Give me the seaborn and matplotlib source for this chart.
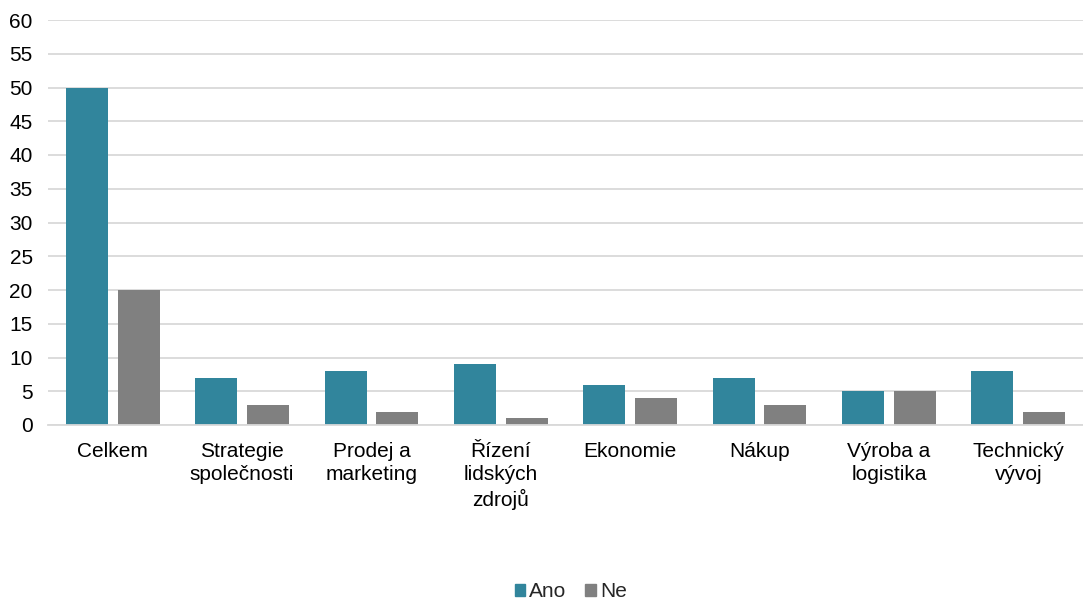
import matplotlib
matplotlib.use("Agg")
import matplotlib.pyplot as plt
import seaborn as sns
import pandas as pd

categories = ["Celkem", "Strategie\nspolečnosti", "Prodej a\nmarketing",
              "Řízení\nlidských\nzdrojů", "Ekonomie", "Nákup",
              "Výroba a\nlogistika", "Technický\nvývoj"]
ano = [50, 7, 8, 9, 6, 7, 5, 8]
ne = [20, 3, 2, 1, 4, 3, 5, 2]
series = ["Ano", "Ne"]
colors = ["#31859C", "#808080"]

sns.set_theme(style="white")
plt.rcParams["font.family"] = ["Liberation Sans", "DejaVu Sans"]

df = pd.DataFrame({
    "kategorie": categories * 2,
    "hodnota": ano + ne,
    "odpověď": [series[0]] * len(categories) + [series[1]] * len(categories),
})

fig = plt.figure(figsize=(10.83, 6.0), dpi=100)
ax = fig.add_axes([48 / 1083, 1 - 425 / 600, 1 - 48 / 1083, 405 / 600])

sns.barplot(data=df, x="kategorie", y="hodnota", hue="odpověď",
            palette=colors, width=0.8, gap=0.19, ax=ax,
            saturation=1, legend=False, linewidth=0)

ax.set_ylim(0, 60)
ax.set_yticks(range(0, 61, 5))
ax.set_xlim(-0.5, len(categories) - 0.5)
ax.set_xlabel("")
ax.set_ylabel("")
ax.grid(axis="y", color="#D9D9D9", linewidth=1.3)
ax.set_axisbelow(True)
for side in ["top", "left", "right"]:
    ax.spines[side].set_visible(False)
ax.spines["bottom"].set_color("#D9D9D9")
ax.spines["bottom"].set_linewidth(1.3)
ax.tick_params(axis="both", length=0, labelsize=15, colors="#000000")
ax.tick_params(axis="x", pad=12)
ax.tick_params(axis="y", pad=11)
for lbl in ax.get_xticklabels():
    lbl.set_linespacing(1.28)
    lbl.set_verticalalignment("top")

handles = [plt.Rectangle((0, 0), 1, 1, color=c) for c in colors]
fig.legend(handles, series, loc="center", bbox_to_anchor=(0.527, 0.014),
           ncol=2, frameon=False, fontsize=15, handlelength=0.5,
           handleheight=0.5, handletextpad=0.2, columnspacing=0.9)

fig.savefig("out.png", dpi=100)
